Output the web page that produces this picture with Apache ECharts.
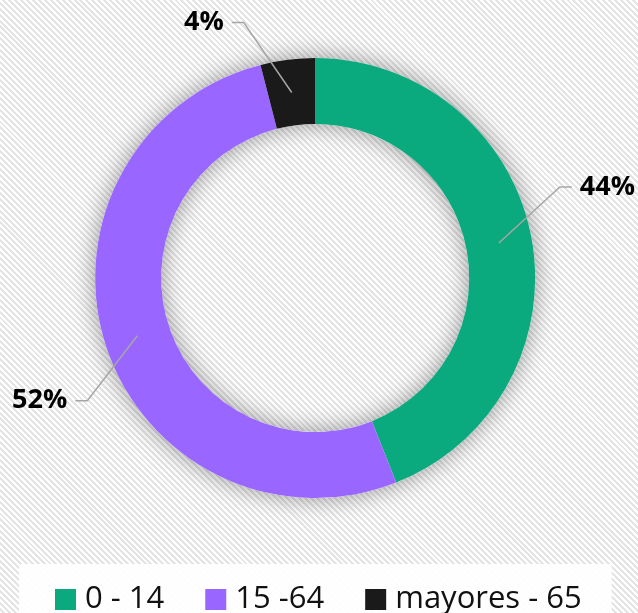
<!DOCTYPE html>
<html>
<head>
<meta charset="utf-8">
<script src="https://cdn.jsdelivr.net/npm/echarts@6/dist/echarts.min.js"></script>
<style>
  html, body { margin: 0; padding: 0; }
  #chart {
    width: 638px;
    height: 613px;
    background: repeating-linear-gradient(45deg, #ffffff 0px, #ffffff 2.1px, #e4e4e4 2.1px, #e4e4e4 4.2px);
  }
</style>
</head>
<body>
<div id="chart"></div>
<script>
// Age groups and their share of the population (%)
const categories = ['0 - 14', '15 -64', 'mayores - 65'];
const shares = [44, 52, 4];
const sliceColors = ['#0aa97e', '#9966ff', '#1a1a1a'];

// Elbow of each leader line, relative to where it leaves the ring (px)
const elbowOffsets = [[61, -56], [-50, 65], [-48, -70]];

const center = ['49.4%', '45.35%'];
const ringRadius = [154, 220];

const chart = echarts.init(document.getElementById('chart'), null, { renderer: 'canvas' });

chart.setOption({
  backgroundColor: 'transparent',
  animation: false,
  legend: {
    data: categories,
    left: 19,
    top: 564,
    padding: [20, 30, 14, 36],
    backgroundColor: 'rgba(255,255,255,0.93)',
    icon: 'rect',
    itemWidth: 21,
    itemHeight: 21,
    itemGap: 41,
    selectedMode: false,
    textStyle: {
      fontFamily: 'Open Sans',
      fontSize: 31,
      color: '#111111',
      lineHeight: 21,
      padding: [0, 0, 0, 4]
    }
  },
  series: [
    {
      // soft drop shadow under the ring
      type: 'pie',
      silent: true,
      z: 1,
      center: center,
      radius: ringRadius,
      label: { show: false },
      labelLine: { show: false },
      itemStyle: {
        color: '#ffffff',
        shadowBlur: 24,
        shadowColor: 'rgba(0,0,0,0.4)'
      },
      data: [{ value: 1, name: 'ring' }]
    },
    {
      type: 'pie',
      silent: true,
      z: 2,
      center: center,
      radius: ringRadius,
      startAngle: 90,
      clockwise: true,
      label: { show: false },
      labelLine: { show: false },
      data: categories.map((name, i) => ({
        name: name,
        value: shares[i],
        itemStyle: { color: sliceColors[i] }
      }))
    },
    {
      // percentage labels with leader lines starting inside the ring
      type: 'pie',
      silent: true,
      z: 5,
      center: center,
      radius: [0, 187],
      startAngle: 90,
      clockwise: true,
      avoidLabelOverlap: false,
      itemStyle: { color: 'transparent' },
      label: {
        show: true,
        position: 'outside',
        formatter: '{d}%',
        fontFamily: 'Open Sans',
        fontWeight: 'bold',
        fontSize: 27,
        color: '#000000'
      },
      labelLine: {
        show: true,
        length: 20,
        length2: 10,
        lineStyle: { color: '#a6a6a6', width: 1.5 }
      },
      labelLayout: function (p) {
        const pts = p.labelLinePoints;
        if (!pts) return {};
        const s = pts[0];
        const off = elbowOffsets[p.dataIndex];
        const dir = off[0] >= 0 ? 1 : -1;
        const e = [s[0] + off[0], s[1] + off[1]];
        const t = [e[0] + dir * 12, e[1]];
        return {
          x: t[0] + dir * 8,
          y: t[1],
          align: dir > 0 ? 'left' : 'right',
          verticalAlign: 'middle',
          labelLinePoints: [s, e, t]
        };
      },
      data: categories.map((name, i) => ({ name: name, value: shares[i] }))
    }
  ]
});
</script>
</body>
</html>
